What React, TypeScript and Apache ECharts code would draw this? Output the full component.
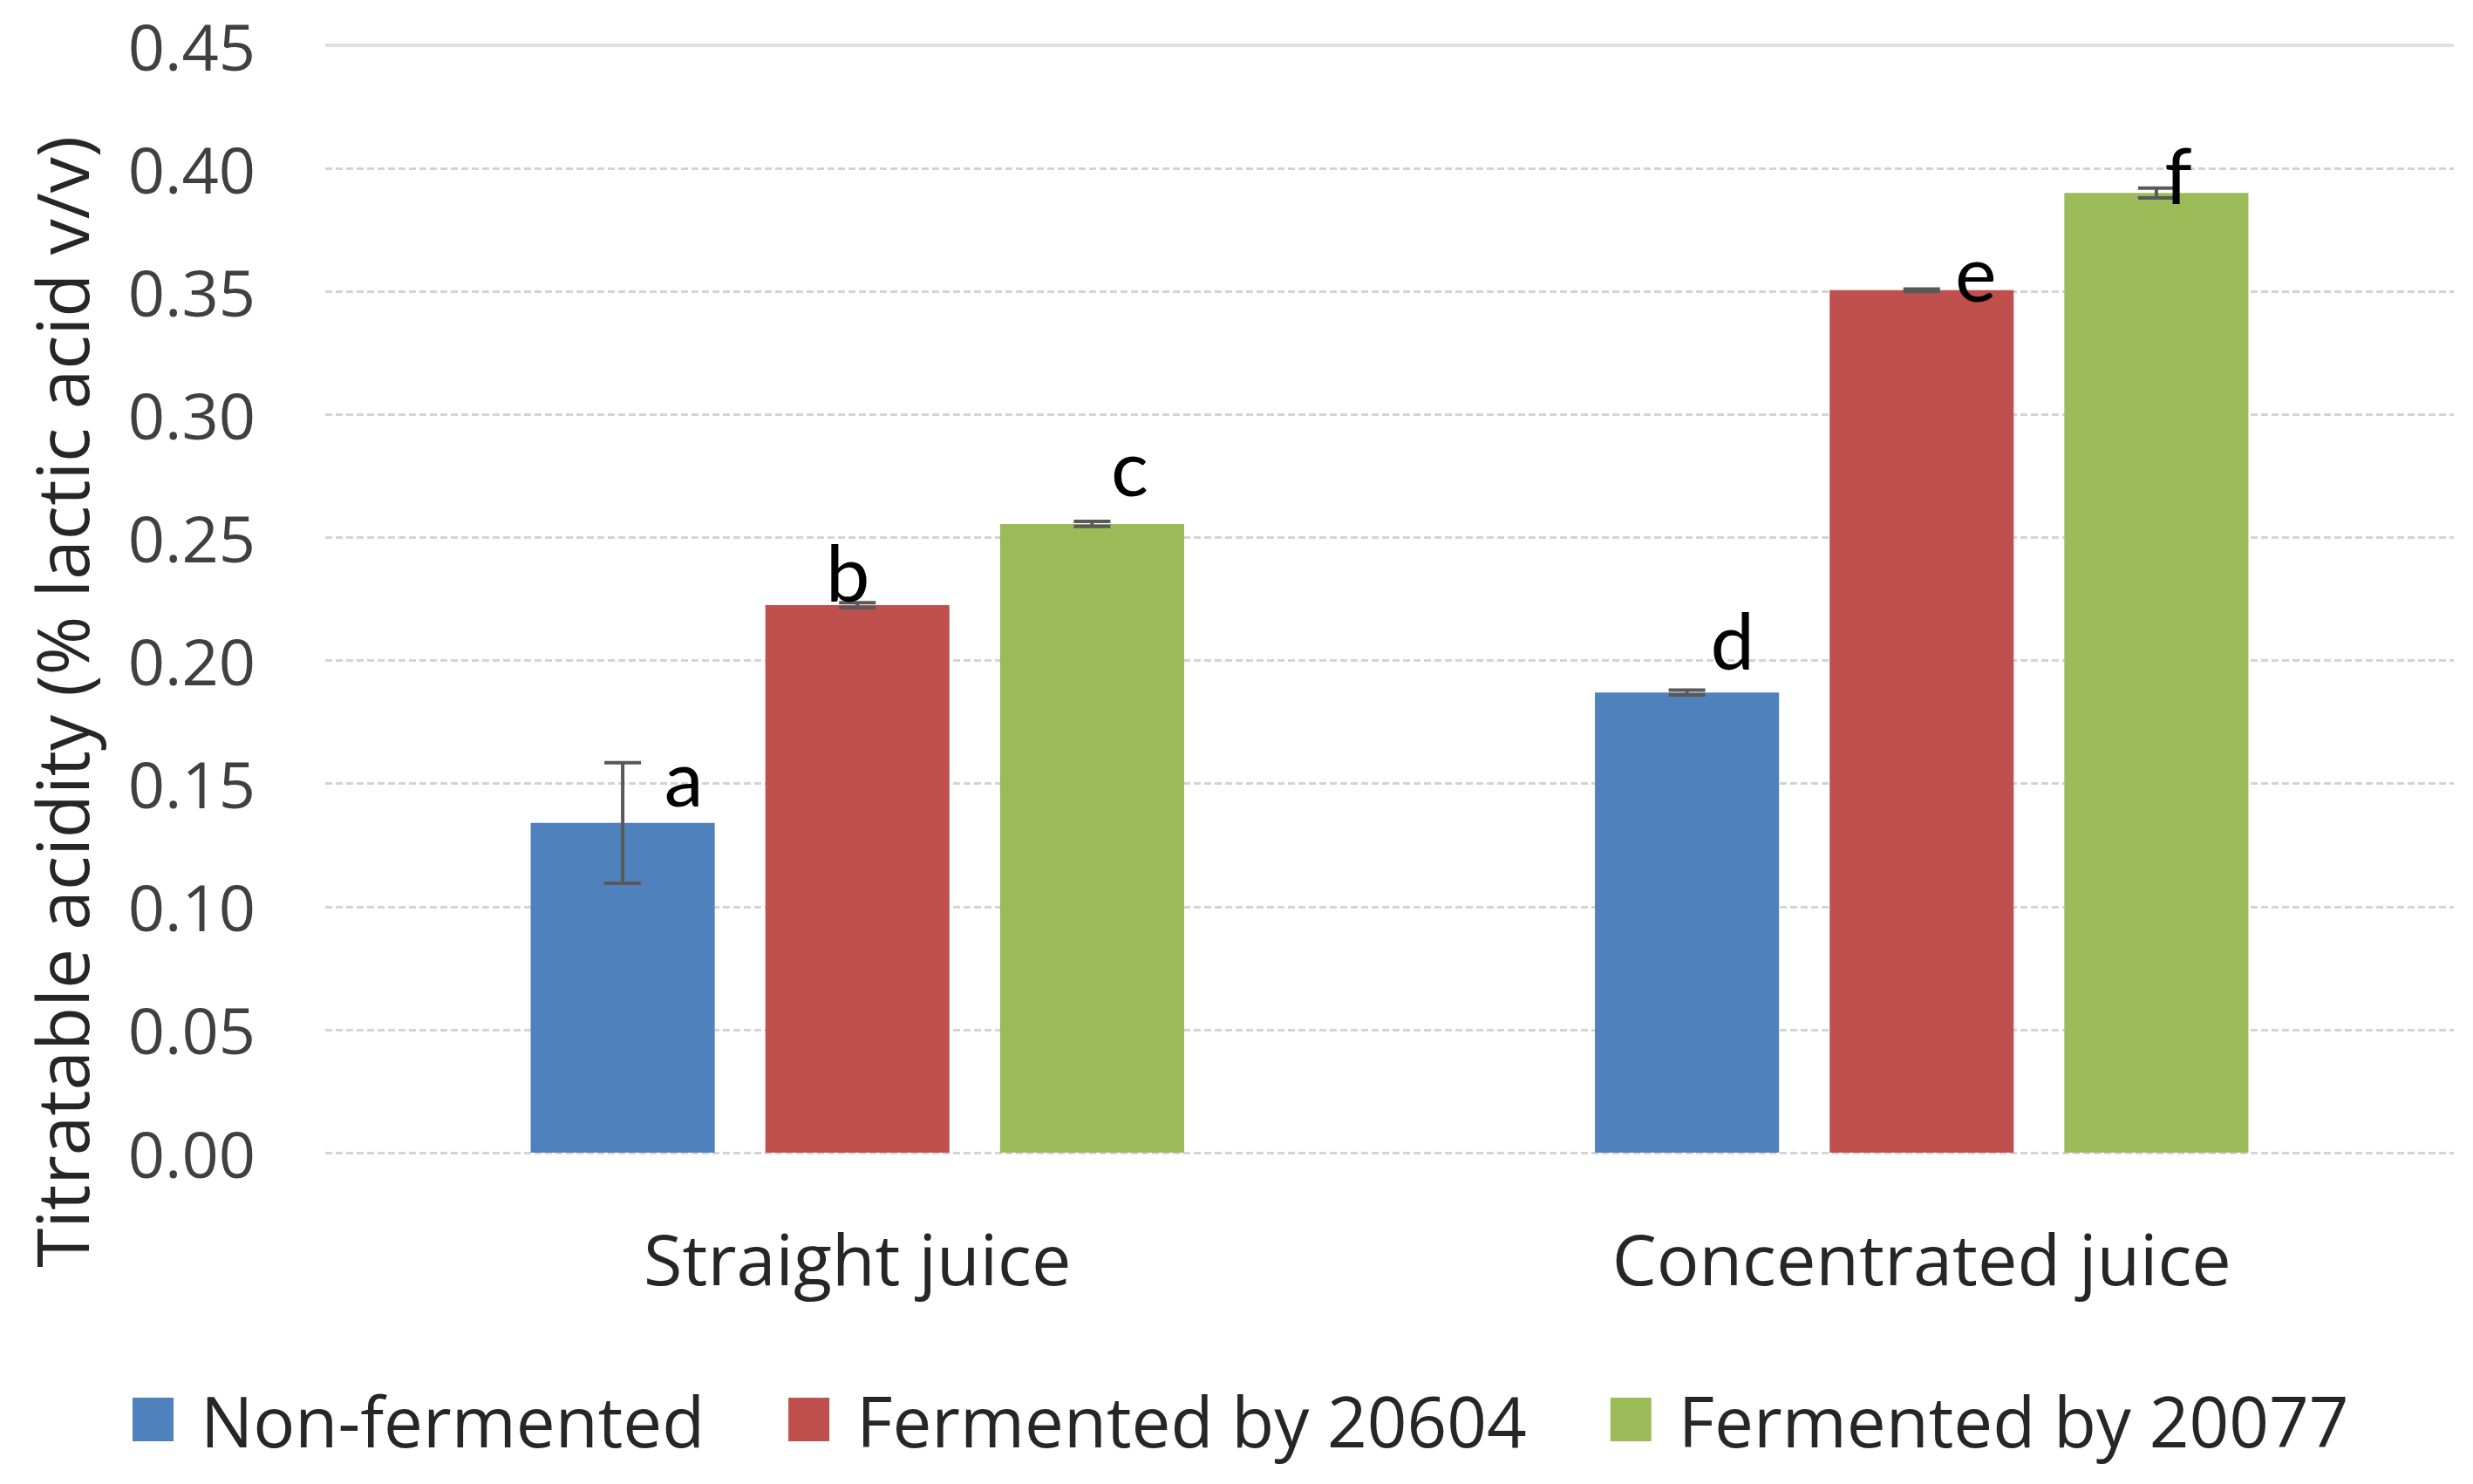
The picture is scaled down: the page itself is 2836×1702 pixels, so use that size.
import React, { useEffect, useRef } from "react";
import * as echarts from "echarts";

// ---- data ----
const categories = ["Straight juice", "Concentrated juice"];
const seriesNames = ["Non-fermented", "Fermented by 20604", "Fermented by 20077"];
const nonFermented = [0.134, 0.187];
const fermented20604 = [0.2225, 0.3505];
const fermented20077 = [0.2555, 0.39];
const errNonFermented = [0.0245, 0.001];
const err20604 = [0.001, 0.0005];
const err20077 = [0.001, 0.002];
const letters = [
  ["a", "d"],
  ["b", "e"],
  ["c", "f"],
];
const yMin = 0;
const yMax = 0.45;
const yInterval = 0.05;
const yTitle = "Titratable acidity (% lactic acid v/v)";

// ---- layout / style ----
const colors = ["#4F81BD", "#C0504D", "#9BBB59"];
const letterOffsets = [
  [[70, 15], [52, -58]],
  [[-11, -36], [62, -20]],
  [[43, -64], [25, -17]],
];
const CAT_GAP = 0.386;
const BAR_GAP = 0.275;
const FONT = "'Open Sans'";
const LETTER_FONT = "Lato";

export default function App() {
  const ref = useRef<HTMLDivElement>(null);
  useEffect(() => {
    document.body.style.margin = "0";
    const chart = echarts.init(ref.current!, null, { renderer: "svg" });
    const values = [nonFermented, fermented20604, fermented20077];
    const errs = [errNonFermented, err20604, err20077];
    const errData: any[] = [];
    values.forEach((arr, s) =>
      arr.forEach((v, c) => errData.push([c, s, v, errs[s][c]]))
    );
    const option: any = {
      animation: false,
      backgroundColor: "#ffffff",
      textStyle: { fontFamily: FONT },
      grid: { left: 373, right: 22, top: 52, bottom: 380 },
      legend: {
        left: 152,
        top: 1588,
        padding: 0,
        icon: "rect",
        itemWidth: 47,
        itemHeight: 50,
        itemGap: 96,
        data: seriesNames,
        textStyle: {
          fontFamily: FONT,
          fontSize: 80,
          color: "#262626",
          lineHeight: 80,
          padding: [0, 0, 0, 26],
        },
      },
      xAxis: {
        type: "category",
        data: categories,
        axisLine: { show: false },
        axisTick: { show: false },
        axisLabel: {
          fontFamily: FONT,
          fontSize: 81,
          color: "#262626",
          margin: 80,
        },
      },
      yAxis: {
        type: "value",
        min: yMin,
        max: yMax,
        interval: yInterval,
        axisLine: { show: false },
        axisTick: { show: false },
        axisLabel: {
          fontFamily: FONT,
          fontSize: 74,
          color: "#404040",
          margin: 80,
          formatter: (v: number) => v.toFixed(2),
        },
        splitLine: {
          lineStyle: { color: "#d4d4d4", width: 3, type: [8, 4] },
        },
      },
      graphic: [
        {
          type: "text",
          x: 70,
          y: 805,
          rotation: Math.PI / 2,
          style: {
            text: yTitle,
            fontFamily: FONT,
            fontSize: 82,
            fill: "#262626",
            align: "center",
            verticalAlign: "middle",
          },
        },
      ],
      series: [
        ...seriesNames.map((name, s) => ({
          name,
          type: "bar",
          data: values[s],
          barCategoryGap: (CAT_GAP * 100).toFixed(1) + "%",
          barGap: (BAR_GAP * 100).toFixed(1) + "%",
          itemStyle: { color: colors[s] },
          markLine:
            s === 0
              ? {
                  silent: true,
                  symbol: "none",
                  label: { show: false },
                  lineStyle: { color: "#e0e0e0", width: 4, type: "solid" },
                  data: [{ yAxis: yMax }],
                }
              : undefined,
        })),
        {
          type: "custom",
          data: errData,
          encode: { x: 0, y: 2 },
          z: 10,
          renderItem: (params: any, api: any) => {
            const c = api.value(0);
            const s = api.value(1);
            const v = api.value(2);
            const e = api.value(3);
            const bandW = api.size([1, 0])[0];
            const groupW = bandW * (1 - CAT_GAP);
            const bw = groupW / (3 + 2 * BAR_GAP);
            const off = (s - 1) * bw * (1 + BAR_GAP);
            const top = api.coord([c, v + e]);
            const bot = api.coord([c, v - e]);
            const x = top[0] + off;
            const cap = 21;
            const ls = { stroke: "#595959", lineWidth: 4 };
            const o = letterOffsets[s][c];
            return {
              type: "group",
              children: [
                { type: "line", shape: { x1: x, y1: top[1], x2: x, y2: bot[1] }, style: ls },
                { type: "line", shape: { x1: x - cap, y1: top[1], x2: x + cap, y2: top[1] }, style: ls },
                { type: "line", shape: { x1: x - cap, y1: bot[1], x2: x + cap, y2: bot[1] }, style: ls },
                {
                  type: "text",
                  x: x + o[0],
                  y: top[1] + o[1],
                  style: {
                    text: letters[s][c],
                    fontFamily: LETTER_FONT,
                    fontSize: 90,
                    fill: "#000000",
                    align: "center",
                    verticalAlign: "middle",
                  },
                },
              ],
            };
          },
        },
      ],
    };
    chart.setOption(option);
    return () => chart.dispose();
  }, []);
  return <div ref={ref} style={{ width: "2836px", height: "1702px" }} />;
}
